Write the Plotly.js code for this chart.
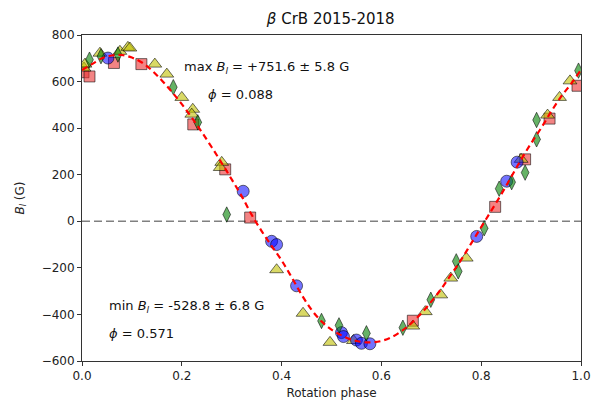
<!DOCTYPE html>
<html>
<head>
<meta charset="utf-8">
<script src="https://cdn.plot.ly/plotly-3.0.1.min.js"></script>
<style>html,body{margin:0;padding:0;background:#fff;}#chart{width:596px;height:406px;}</style>
</head>
<body>
<div id="chart"></div>
<script>
// Fit curve
const fitPhase = [0.00,0.02,0.04,0.06,0.08,0.10,0.12,0.14,0.16,0.18,0.20,0.22,0.24,0.26,0.28,0.30,0.32,0.34,0.36,0.38,0.40,0.42,0.44,0.46,0.48,0.50,0.52,0.54,0.56,0.58,0.60,0.62,0.64,0.66,0.68,0.70,0.72,0.74,0.76,0.78,0.80,0.82,0.84,0.86,0.88,0.90,0.92,0.94,0.96,0.98,1.00];
const fitB = [650,675,700,712,714,703,682,648,605,556,503,445,383,318,250,180,108,28,-42,-106,-168,-240,-315,-380,-430,-465,-490,-508,-518,-520,-514,-498,-472,-438,-395,-345,-290,-228,-165,-95,-25,45,115,190,265,335,400,470,535,590,650];

// Squares (red)
const sqPhase = [0.003,0.015,0.064,0.119,0.223,0.287,0.337,0.663,0.828,0.888,0.937,0.993];
const sqB =     [640,  622,  680,  675,  416,  223,  16,  -427, 62,   266,  441,  582];

// Triangles (yellow)
const triPhase = [0.004,0.006,0.036,0.076,0.092,0.096,0.146,0.170,0.200,0.222,0.220,0.280,0.277,0.390,0.443,0.497,0.544,0.663,0.688,0.719,0.739,0.770,0.880,0.933,0.957,0.978];
const triB =     [658,  675,  722,  730,  747,  744,  675,  632,  532,  481,  460,  253,  231,  -208, -395, -520, -512, -450, -388, -316, -244, -158, 266,  456,  532,  603];

// Circles (blue)
const cirPhase = [0.052,0.323,0.380,0.390,0.430,0.520,0.524,0.550,0.560,0.577,0.791,0.851,0.872];
const cirB =     [701,  129,  -86,  -100, -277, -478, -495, -510, -524, -526, -65,  172,  254];

// Diamonds (green)
const diaPhase = [0.015,0.038,0.072,0.183,0.232,0.290,0.480,0.515,0.570,0.643,0.699,0.750,0.754,0.806,0.836,0.861,0.888,0.911,0.911,0.995];
const diaB =     [694,  709,  716,  576,  425,  29,   -428, -447, -481, -457, -337, -172, -215, -30,  140,  168,  209,  435,  352,  647];

const xTicks = [0, 0.2, 0.4, 0.6, 0.8, 1.0];
const xTickText = ['0.0','0.2','0.4','0.6','0.8','1.0'];
const yTicks = [-600,-400,-200,0,200,400,600,800];

const edge = {color:'rgba(0,0,0,0.55)', width:1};
const font = 'DejaVu Sans, sans-serif';

const traces = [
  {x:[0,1], y:[0,0], mode:'lines', line:{color:'#808080', width:1.6, dash:'8px,4px'}, hoverinfo:'skip', showlegend:false},
  {x:sqPhase, y:sqB, mode:'markers', marker:{symbol:'square', size:11, color:'rgba(235,50,50,0.6)', line:edge}, showlegend:false},
  {x:triPhase, y:triB, mode:'markers', marker:{symbol:'triangle-up', size:12, color:'rgba(191,191,0,0.6)', line:edge}, showlegend:false},
  {x:cirPhase, y:cirB, mode:'markers', marker:{symbol:'circle', size:12, color:'rgba(0,0,255,0.55)', line:edge}, showlegend:false},
  {x:diaPhase, y:diaB, mode:'markers', marker:{symbol:'diamond-tall', size:11, color:'rgba(0,128,0,0.6)', line:edge}, showlegend:false},
  {x:fitPhase, y:fitB, mode:'lines', line:{color:'#ff0000', width:2.2, dash:'6px,4px', shape:'spline'}, showlegend:false}
];

const layout = {
  width:596, height:406,
  margin:{l:82, r:15, t:35, b:45},
  paper_bgcolor:'#fff', plot_bgcolor:'#fff',
  font:{family:font, size:12, color:'#222'},
  title:{text:'<i>β</i> CrB 2015-2018', font:{family:font, size:15, color:'#111'}, x:0.555, xanchor:'center', y:0.955, yanchor:'middle'},
  xaxis:{range:[0,1], tickvals:xTicks, ticktext:xTickText, ticks:'outside', ticklen:4, tickcolor:'#333',
    showline:true, linecolor:'#333', linewidth:1, mirror:true, showgrid:false, zeroline:false,
    title:{text:'Rotation phase', font:{family:font, size:12, color:'#222'}, standoff:6}},
  yaxis:{range:[-600,800], tickvals:yTicks, ticks:'outside', ticklen:4, tickcolor:'#333',
    showline:true, linecolor:'#333', linewidth:1, mirror:true, showgrid:false, zeroline:false,
    title:{text:'<i>B</i><sub><i>l</i></sub> (G)', font:{family:font, size:12, color:'#222'}, standoff:14}},
  annotations:[
    {x:0.2, y:660, xref:'x', yref:'y', text:'max <i>B</i><sub><i>l</i></sub> = +751.6 ± 5.8 G', showarrow:false, xanchor:'left', yanchor:'middle', font:{family:font, size:13, color:'#111'}},
    {x:0.248, y:544, xref:'x', yref:'y', text:'<i>ϕ</i> = 0.088', showarrow:false, xanchor:'left', yanchor:'middle', font:{family:font, size:13, color:'#111'}},
    {x:0.05, y:-368, xref:'x', yref:'y', text:'min <i>B</i><sub><i>l</i></sub> = -528.8 ± 6.8 G', showarrow:false, xanchor:'left', yanchor:'middle', font:{family:font, size:13, color:'#111'}},
    {x:0.05, y:-480, xref:'x', yref:'y', text:'<i>ϕ</i> = 0.571', showarrow:false, xanchor:'left', yanchor:'middle', font:{family:font, size:13, color:'#111'}}
  ]
};

Plotly.newPlot('chart', traces, layout, {displayModeBar:false, staticPlot:true});
</script>
</body>
</html>
